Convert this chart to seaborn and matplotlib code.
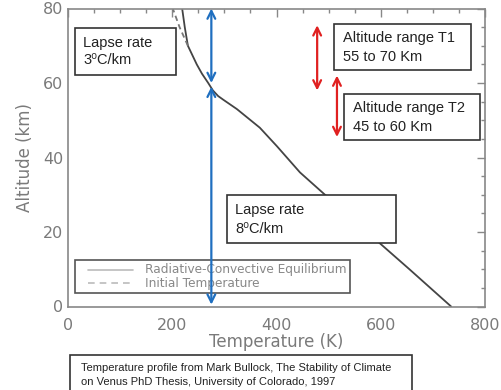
import matplotlib
matplotlib.use("Agg")
import matplotlib.pyplot as plt
import seaborn as sns
import pandas as pd
from matplotlib.patches import Rectangle
from matplotlib.lines import Line2D
from matplotlib.ticker import MultipleLocator

# ---- data ----
rce_alt = [0, 5, 10, 17, 20, 25, 30, 36, 43, 48, 53, 55.5, 56.5, 58, 60, 62.5, 65, 70, 75, 80]
rce_temp = [735, 695, 655, 598, 575, 535, 493, 445, 401, 368, 324, 298, 288, 278, 269, 257, 247, 230, 224, 219]
init_alt = [70, 75, 80]
init_temp = [230, 214, 201]

xticks = [0, 200, 400, 600, 800]
yticks = [0, 20, 40, 60, 80]
legend_labels = ["Radiative-Convective Equilibrium", "Initial Temperature"]

lapse_arrow_T = 275
lapse_upper = (60, 80)
lapse_lower = (0.5, 59)
t1_T, t1_range = 478, (58, 75.5)
t2_T, t2_range = 516, (45.5, 62)

sns.set_theme(style="white")
plt.rcParams['font.family'] = ['DejaVu Sans']

W, H = 502, 390
fig = plt.figure(figsize=(W / 100, H / 100), dpi=100)

def fx(px):
    return px / W

def fy(py):
    return 1 - py / H

ax = fig.add_axes([fx(68), fy(306.5), fx(485) - fx(68), fy(8.5) - fy(306.5)])

df = pd.DataFrame({"T": rce_temp, "z": rce_alt})
di = pd.DataFrame({"T": init_temp, "z": init_alt})
sns.lineplot(data=df, x="T", y="z", sort=False, estimator=None, color="#444444", lw=1.3, ax=ax)
sns.lineplot(data=di, x="T", y="z", sort=False, estimator=None, color="#777777", lw=1.3,
             linestyle=(0, (3, 2)), ax=ax)

ax.set_xlim(0, 800)
ax.set_ylim(0, 80)
ax.set_xticks(xticks)
ax.set_yticks(yticks)
ax.xaxis.set_minor_locator(MultipleLocator(50))
ax.yaxis.set_minor_locator(MultipleLocator(5))
grey = "#7a7a7a"
ax.tick_params(which="both", direction="in", top=True, right=True, colors="#888888",
               labelcolor=grey, labelsize=11.5)
ax.tick_params(which="major", length=6, width=1)
ax.tick_params(which="minor", length=3, width=1)
ax.tick_params(axis="x", pad=8)
for s in ax.spines.values():
    s.set_color("#888888")
    s.set_linewidth(1.2)
ax.set_xlabel("Temperature (K)", color=grey, fontsize=12, labelpad=0)
ax.set_ylabel("Altitude (km)", color=grey, fontsize=12, labelpad=6)

# legend (manual, IDL style) drawn inside the axes, below the arrows
ax.add_patch(Rectangle((fx(75), fy(293)), fx(350) - fx(75), fy(260) - fy(293),
                       transform=fig.transFigure, facecolor="white", edgecolor="#555555",
                       lw=1.2, zorder=3, clip_on=False))
for y, ls in ((270, "-"), (283, (0, (4, 3)))):
    ax.add_line(Line2D([fx(88), fx(133)], [fy(y), fy(y)], transform=fig.transFigure,
                       color="#bbbbbb", lw=1.2, linestyle=ls, zorder=3.5, clip_on=False))
for y, lab in zip((270, 283), legend_labels):
    ax.text(fx(145), fy(y), lab, transform=fig.transFigure, ha="left", va="center",
            fontsize=8.7, color="#888888", zorder=3.5)

# arrows
blue = "#1f6fc0"
red = "#e02020"
for (a, b) in (lapse_upper, lapse_lower):
    ax.annotate("", xy=(lapse_arrow_T, a), xytext=(lapse_arrow_T, b), zorder=4,
                arrowprops=dict(arrowstyle="<->", color=blue, lw=1.6, mutation_scale=14,
                                shrinkA=0, shrinkB=0))
for T, (a, b) in ((t1_T, t1_range), (t2_T, t2_range)):
    ax.annotate("", xy=(T, a), xytext=(T, b), zorder=4,
                arrowprops=dict(arrowstyle="<->", color=red, lw=1.6, mutation_scale=14,
                                shrinkA=0, shrinkB=0))

# text boxes
def box(l, t, r, b, lw=1.2, ec="#333333", z=5):
    fig.add_artist(Rectangle((fx(l), fy(b)), fx(r) - fx(l), fy(t) - fy(b),
                             transform=fig.transFigure, facecolor="white",
                             edgecolor=ec, lw=lw, zorder=z))

def txt(x, y, s, size=10.5, color="#222222", z=6):
    fig.text(fx(x), fy(y), s, ha="left", va="center", fontsize=size, color=color,
             family=["Liberation Sans", "DejaVu Sans"], zorder=z)

box(75, 28, 176, 75)
txt(83, 43, "Lapse rate")
txt(83, 60, "3\u2070C/km")

box(334, 24, 471, 70)
txt(343, 38, "Altitude range T1")
txt(343, 57, "55 to 70 Km")

box(344, 94, 480, 140)
txt(353, 108, "Altitude range T2")
txt(353, 127, "45 to 60 Km")

box(227, 195, 396, 243)
txt(235, 210, "Lapse rate")
txt(235, 229, "8\u2070C/km")

box(70, 355, 412, 392)
txt(81, 368, "Temperature profile from Mark Bullock, The Stability of Climate", size=8)
txt(81, 382, "on Venus PhD Thesis, University of Colorado, 1997", size=8)

fig.savefig("out.png", dpi=100)
